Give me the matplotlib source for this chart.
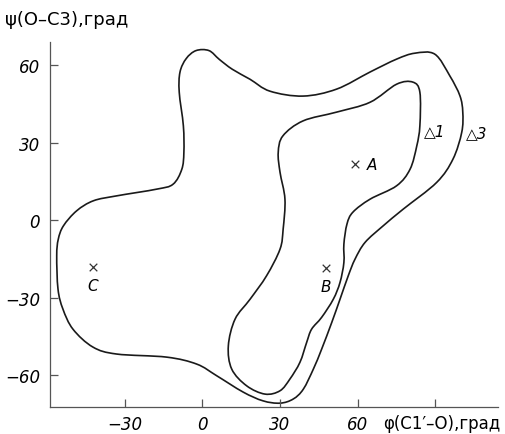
import numpy as np
import matplotlib
matplotlib.use("Agg")
import matplotlib.pyplot as plt
from matplotlib.path import Path
from matplotlib.patches import PathPatch

# contour 3 (outer), degrees
phi_outer = [-55.8, -53.8, -48.7, -42.2, -33.2, -17.7, -11.4, -8.0, -7.2, -7.4, -9.0, -8.7,
             -6.3, -2.5, 2.5, 6.5, 11.5, 18.4, 26.1, 38.9, 51.9, 64.8, 75.1, 82.2, 89.9, 95.7, 99.6,
             100.7, 100.3, 96.9, 90.6, 77.7, 69.9, 62.9, 59.0, 56.4, 53.2, 50.0, 46.1, 42.9,
             39.0, 35.1, 30.0, 23.4, 15.7, 5.5, -2.2, -13.8, -33.2, -42.4, -50.1, -54.0, -55.9, -56.4]
psi_outer = [-7.4, -2.2, 3.6, 7.5, 9.4, 12.0, 13.9, 19.7, 26.3, 36.5, 49.5, 57.3,
             62.5, 65.6, 65.6, 62.2, 58.4, 54.5, 49.9, 48.0, 50.7, 57.3, 62.3, 64.6, 64.2, 55.8, 48.1,
             41.8, 34.0, 23.6, 14.6, 4.3, -2.2, -8.6, -15.1, -21.5, -30.6, -39.6, -49.9, -57.6,
             -65.4, -69.2, -70.8, -69.9, -66.5, -60.2, -55.7, -53.0, -51.8, -49.1, -42.2, -34.4, -26.7, -13.8]

# contour 1 (inner)
phi_inner = [29.3, 31.1, 38.9, 51.9, 64.8, 75.1, 81.4, 84.1, 84.1, 82.9, 80.3, 75.1, 64.8, 58.2,
             55.9, 54.7, 54.7, 53.2, 50.6, 46.1, 42.2, 40.3, 37.7, 33.8, 30.0, 24.2, 17.1, 11.3,
             10.0, 12.6, 18.4, 24.8, 30.0, 31.2, 31.9, 30.0]
psi_inner = [26.2, 32.6, 38.4, 41.8, 45.6, 52.6, 53.4, 49.5, 36.5, 28.7, 19.7, 13.3, 8.1, 3.1,
             -1.5, -9.3, -16.4, -24.1, -30.6, -37.6, -42.2, -47.3, -55.0, -61.5, -66.0, -67.3, -64.1, -57.6,
             -48.6, -38.3, -30.6, -21.5, -11.2, -3.5, 8.1, 18.5]

# conformation points
pt_names = ["A", "B", "C"]
pt_phi = [59.0, 47.8, -42.5]
pt_psi = [21.7, -18.7, -18.1]

# contour labels
lev_names = ["1", "3"]
lev_phi = [85.5, 102.0]
lev_psi = [34.5, 33.9]

xticks = [-30, 0, 30, 60, 90]
xticklabels = ["\u221230", "0", "30", "60", ""]
yticks = [-60, -30, 0, 30, 60]
yticklabels = ["\u221260", "\u221230", "0", "30", "60"]

FONT = ["Liberation Sans Narrow", "DejaVu Sans"]


def closed_curve(xs, ys):
    # closed Catmull-Rom curve through the points, as cubic bezier segments
    p = np.column_stack([xs, ys])
    n = len(p)
    verts = [p[0]]
    codes = [Path.MOVETO]
    for i in range(n):
        p0, p1, p2, p3 = p[i - 1], p[i], p[(i + 1) % n], p[(i + 2) % n]
        verts += [p1 + (p2 - p0) / 6.0, p2 - (p3 - p1) / 6.0, p2]
        codes += [Path.CURVE4] * 3
    return Path(verts, codes)


fig = plt.figure(figsize=(5.05, 4.35), dpi=100)
ax = fig.add_axes([0.099, 0.062, 0.887, 0.839])

for xs, ys in [(phi_outer, psi_outer), (phi_inner, psi_inner)]:
    ax.add_patch(PathPatch(closed_curve(xs, ys), fill=False, lw=1.2, ec="#1a1a1a"))

ax.scatter(pt_phi, pt_psi, marker="x", s=30, c="#333333", linewidths=0.9)
ax.text(pt_phi[0] + 4.5, pt_psi[0], pt_names[0], family=FONT, style="italic", fontsize=11,
        va="center", ha="left")
for i in (1, 2):
    ax.text(pt_phi[i], pt_psi[i] - 7, pt_names[i], family=FONT, style="italic", fontsize=11,
            va="center", ha="center")
for name, x, y in zip(lev_names, lev_phi, lev_psi):
    ax.text(x, y, "\u25b3" + name, family=FONT, style="italic", fontsize=11,
            va="center", ha="left")

ax.set_xlim(-59.0, 114.3)
ax.set_ylim(-72.3, 68.9)
ax.set_xticks(xticks)
ax.set_xticklabels(xticklabels)
ax.set_yticks(yticks)
ax.set_yticklabels(yticklabels)
for lab in ax.get_xticklabels() + ax.get_yticklabels():
    lab.set_family(FONT)
    lab.set_style("italic")
    lab.set_fontsize(12)
ax.tick_params(axis="x", direction="in", length=6, width=0.9, color="#555555", pad=6)
ax.tick_params(axis="y", direction="in", length=6, width=0.9, color="#555555", pad=7)
for side in ["top", "right"]:
    ax.spines[side].set_visible(False)
for side in ["left", "bottom"]:
    ax.spines[side].set_color("#555555")
    ax.spines[side].set_linewidth(0.9)

fig.text(5 / 505, 1 - 20 / 435, "\u03c8(O\u2013C3),град", family=FONT, fontsize=13, va="center", ha="left")
fig.text(383 / 505, 1 - 424 / 435, "\u03c6(C1\u2032\u2013O),град", family=FONT, fontsize=12, va="center", ha="left")

fig.savefig("out.png", dpi=100)
